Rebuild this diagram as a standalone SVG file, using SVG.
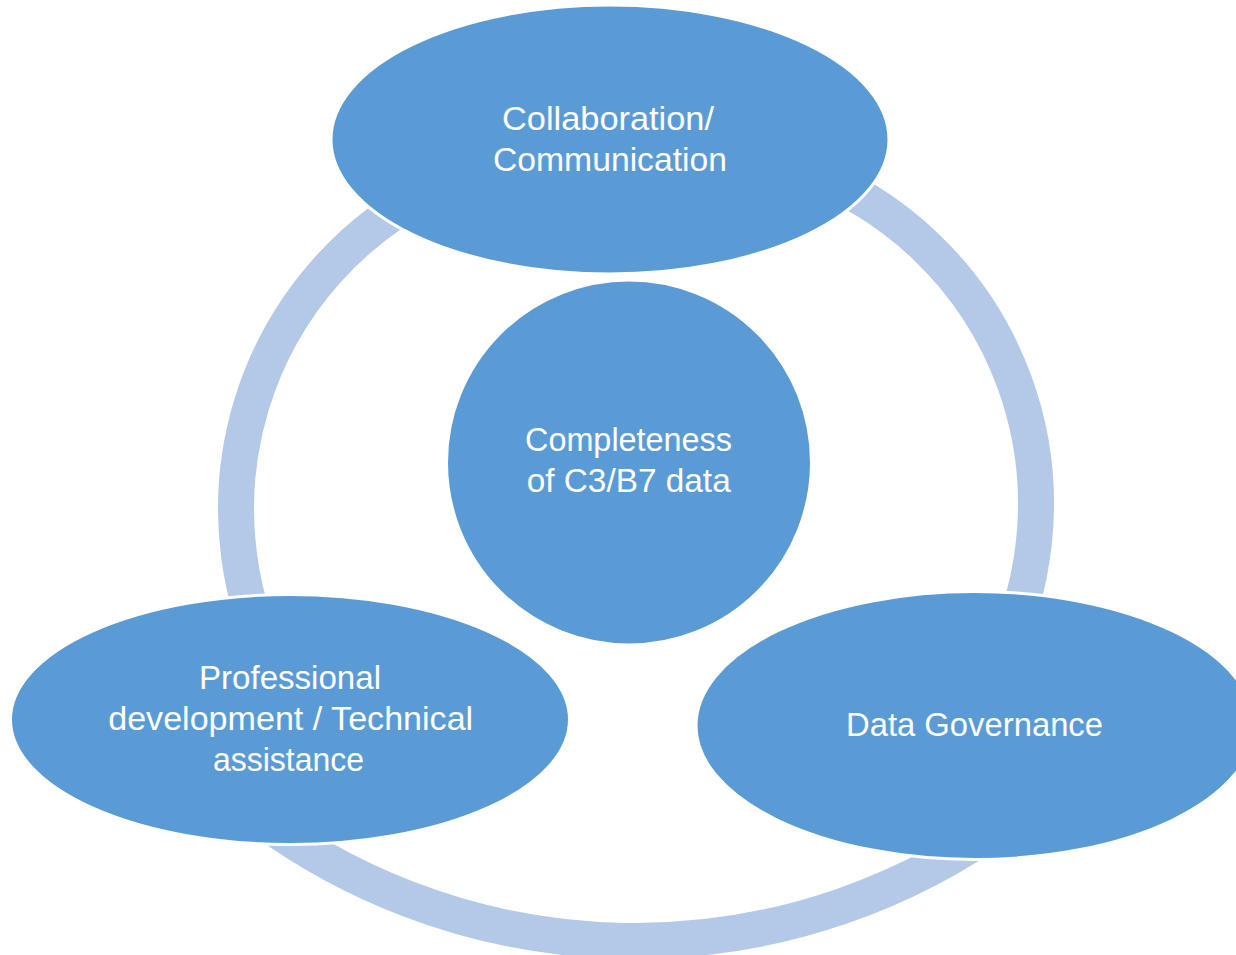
<svg xmlns="http://www.w3.org/2000/svg" width="1236" height="955" viewBox="0 0 1236 955">
  <style>
    .ring { fill: none; stroke: #B4C9E7; stroke-width: 36; stroke-linecap: butt; }
    .node { fill: #5B9BD5; stroke: #FFFFFF; stroke-width: 3; }
    .center { fill: #5B9BD5; stroke: #FFFFFF; stroke-width: 3; }
    .label { font-family: "Liberation Sans", Arial, sans-serif; font-size: 33px; fill: #FFFFFF; text-anchor: middle; }
  </style>
  <rect width="1236" height="955" fill="#FFFFFF"/>
  <g id="connectors">
    <path class="ring" d="M 284 688 A 358 358 0 0 1 437.1 187.2"/>
    <path class="ring" d="M 801.8 169.5 A 356 356 0 0 1 988.3 682"/>
    <path class="ring" d="M 1024.7 806.8 A 633 633 0 0 1 228.1 792.9"/>
  </g>
  <g id="node-center">
    <circle class="center" cx="629" cy="462.5" r="182.5"/>
    <text class="label"><tspan x="628.5" y="451" textLength="207" lengthAdjust="spacingAndGlyphs">Completeness</tspan><tspan x="628.7" y="492" textLength="204" lengthAdjust="spacingAndGlyphs">of C3/B7 data</tspan></text>
  </g>
  <g id="node-top">
    <ellipse class="node" cx="610" cy="139.5" rx="279" ry="134.5"/>
    <text class="label"><tspan x="608" y="130" textLength="212" lengthAdjust="spacingAndGlyphs">Collaboration/</tspan><tspan x="610" y="171" textLength="234" lengthAdjust="spacingAndGlyphs">Communication</tspan></text>
  </g>
  <g id="node-left">
    <ellipse class="node" cx="290" cy="719.5" rx="279.5" ry="125"/>
    <text class="label"><tspan x="290" y="689" textLength="182" lengthAdjust="spacingAndGlyphs">Professional</tspan><tspan x="290.7" y="730" textLength="365" lengthAdjust="spacingAndGlyphs">development / Technical</tspan><tspan x="288.5" y="771" textLength="151" lengthAdjust="spacingAndGlyphs">assistance</tspan></text>
  </g>
  <g id="node-right">
    <ellipse class="node" cx="975" cy="725.5" rx="279" ry="134"/>
    <text class="label"><tspan x="974.5" y="736" textLength="257" lengthAdjust="spacingAndGlyphs">Data Governance</tspan></text>
  </g>
</svg>
